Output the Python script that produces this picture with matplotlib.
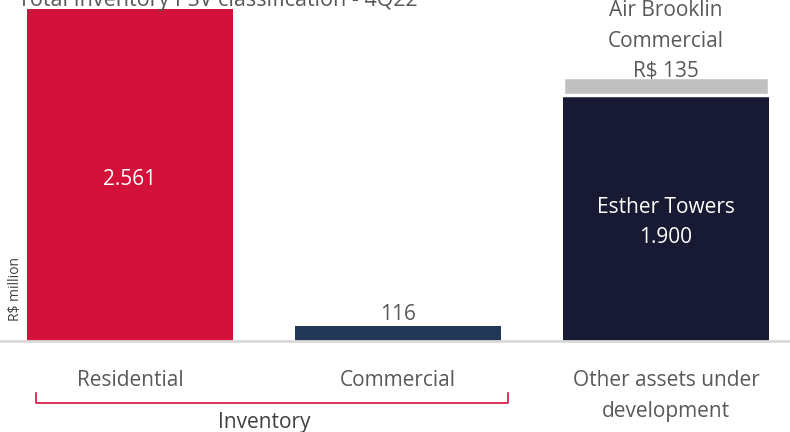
import numpy as np
import matplotlib.pyplot as plt

plt.rcParams['font.family'] = ['Open Sans', 'DejaVu Sans']

# valores em R$ milhões
categorias = ['Residential', 'Commercial', 'Other assets under\ndevelopment']
estoque = [2561, 116, 1900]
air_brooklin = [0, 0, 135]
cores = ['#d2123a', '#233857', '#171a32']
rotulos_valor = ['2.561', '116', 'Esther Towers\n1.900']

fig = plt.figure(figsize=(7.9, 4.32), dpi=100)
ax = fig.add_axes([0, 91 / 432, 1, 341 / 432])

x = np.arange(len(categorias))
largura = 0.77
ax.bar(x, estoque, width=largura, color=cores, zorder=2)
ax.bar(x[2], air_brooklin[2], bottom=estoque[2], width=largura,
       color='#c0c0c0', edgecolor='white', linewidth=2.5, zorder=2)

ax.set_xlim(-0.485, 2.463)
ax.set_ylim(0, 2633)
ax.axis('off')
ax.axhline(0, color='#d9d9d9', linewidth=2, zorder=3, clip_on=False)

cinza = '#595959'
fs = 15
ax.text(x[0], 1250, rotulos_valor[0], color='white', fontsize=fs, ha='center', va='center')
ax.text(x[1], estoque[1] + 5, rotulos_valor[1], color=cinza, fontsize=fs, ha='center', va='bottom')
ax.text(x[2], 915, rotulos_valor[2], color='white', fontsize=fs, ha='center', va='center',
        linespacing=1.6)
ax.text(x[2], estoque[2] + air_brooklin[2] - 36,
        'Air Brooklin\nCommercial\nR$ ' + str(air_brooklin[2]),
        color=cinza, fontsize=fs, ha='center', va='bottom', linespacing=1.6, zorder=4)

# rótulos das categorias abaixo do eixo
for xi, cat in zip(x, categorias):
    ax.text(xi, -225, cat, color=cinza, fontsize=fs, ha='center', va='top', linespacing=1.6)

# chave do estoque
ax.plot([-0.35, -0.35, 1.41, 1.41], [-400, -475, -475, -400], color='#d2123a',
        linewidth=1.2, clip_on=False)
ax.text(0.5, -545, 'Inventory', color='#404040', fontsize=fs, ha='center', va='top')

fig.text(16 / 790, 1 - 289 / 432, 'R$ million', rotation=90, fontsize=10,
         color='#404040', ha='center', va='center')
fig.text(18 / 790, 1 + 10 / 432, 'Total Inventory PSV classification - 4Q22',
         fontsize=15.5, color=cinza, ha='left', va='top')

fig.savefig('out.png', dpi=100)
